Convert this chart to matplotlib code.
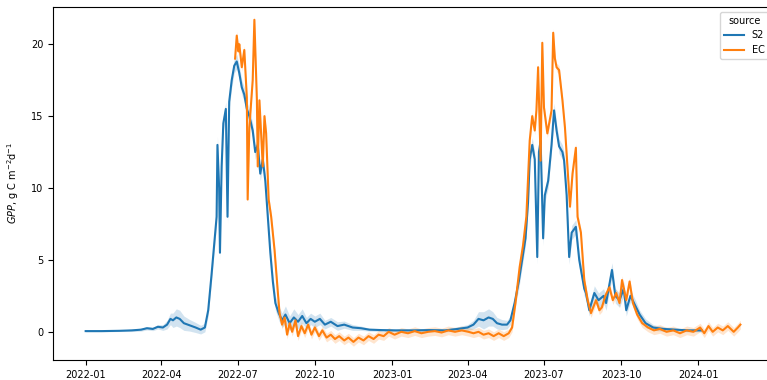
import numpy as np
import pandas as pd
import matplotlib
matplotlib.use("Agg")
from matplotlib import pyplot as plt
import matplotlib.dates as mdates

plt.rcParams["font.size"] = 7

#  ---------------------------------------  data  ---------------------------------------  #

s2_dates = ["2022-01-01", "2022-01-20", "2022-02-10", "2022-02-25", "2022-03-08", "2022-03-15",
            "2022-03-22", "2022-03-28", "2022-04-03", "2022-04-08", "2022-04-12", "2022-04-15",
            "2022-04-19", "2022-04-23", "2022-04-28", "2022-05-05", "2022-05-12", "2022-05-18",
            "2022-05-23", "2022-05-27", "2022-05-31", "2022-06-03", "2022-06-06", "2022-06-07",
            "2022-06-09", "2022-06-10", "2022-06-12", "2022-06-14", "2022-06-17", "2022-06-19",
            "2022-06-21", "2022-06-24", "2022-06-27", "2022-06-30", "2022-07-03", "2022-07-06",
            "2022-07-09", "2022-07-12", "2022-07-15", "2022-07-19", "2022-07-22", "2022-07-25",
            "2022-07-28", "2022-07-31", "2022-08-03", "2022-08-06", "2022-08-09", "2022-08-12",
            "2022-08-15", "2022-08-19", "2022-08-23", "2022-08-27", "2022-09-01", "2022-09-06",
            "2022-09-11", "2022-09-16", "2022-09-21", "2022-09-26", "2022-10-01", "2022-10-07",
            "2022-10-13", "2022-10-20", "2022-10-28", "2022-11-05", "2022-11-15", "2022-11-25",
            "2022-12-05", "2022-12-20", "2023-01-05", "2023-01-25", "2023-02-15", "2023-03-05",
            "2023-03-20", "2023-04-01", "2023-04-08", "2023-04-14", "2023-04-20", "2023-04-26",
            "2023-05-01", "2023-05-06", "2023-05-12", "2023-05-18", "2023-05-22", "2023-05-27",
            "2023-06-01", "2023-06-05", "2023-06-09", "2023-06-12", "2023-06-14", "2023-06-17",
            "2023-06-20", "2023-06-23", "2023-06-25", "2023-06-27", "2023-06-30", "2023-07-02",
            "2023-07-06", "2023-07-10", "2023-07-13", "2023-07-16", "2023-07-19", "2023-07-23",
            "2023-07-25", "2023-07-28", "2023-07-31", "2023-08-03", "2023-08-08", "2023-08-12",
            "2023-08-18", "2023-08-20", "2023-08-24", "2023-08-30", "2023-09-04", "2023-09-10",
            "2023-09-13", "2023-09-20", "2023-09-24", "2023-09-29", "2023-10-04", "2023-10-07",
            "2023-10-12", "2023-10-18", "2023-10-23", "2023-10-30", "2023-11-08", "2023-11-20",
            "2023-12-05", "2023-12-20", "2024-01-05"]
s2_gpp = [0.05, 0.05, 0.07, 0.1, 0.15, 0.25,
          0.2, 0.35, 0.3, 0.5, 0.9, 0.8,
          1.0, 0.9, 0.6, 0.45, 0.3, 0.15,
          0.3, 1.5, 4.0, 6.0, 8.0, 13.0,
          10.0, 5.5, 11.5, 14.5, 15.5, 8.0,
          16.0, 17.5, 18.5, 18.8, 18.0, 17.0,
          16.5, 15.5, 15.0, 14.0, 12.5, 13.0,
          11.0, 12.0, 10.5, 8.0, 5.5, 3.5,
          2.0, 1.3, 0.8, 1.2, 0.6, 1.0,
          0.7, 1.1, 0.6, 0.9, 0.7, 0.9,
          0.5, 0.7, 0.4, 0.5, 0.3, 0.25,
          0.15, 0.12, 0.1, 0.1, 0.12, 0.1,
          0.2, 0.3, 0.5, 0.9, 0.8, 1.0,
          0.9, 0.6, 0.5, 0.5, 0.8, 2.0,
          3.5, 5.0, 6.5, 9.0, 12.0, 13.0,
          12.0, 5.2, 12.5, 13.3, 6.5, 9.5,
          10.5, 13.0, 15.4, 14.0, 12.9, 12.5,
          11.9, 9.5, 5.2, 6.9, 7.3, 5.0,
          3.0, 2.7, 1.5, 2.7, 2.2, 2.5,
          2.0, 4.3, 2.5, 2.2, 3.0, 1.5,
          2.5, 1.8, 1.2, 0.6, 0.3, 0.2,
          0.15, 0.1, 0.1]
s2_ci = [0.05, 0.05, 0.05, 0.08, 0.1, 0.12,
         0.12, 0.15, 0.2, 0.3, 0.4, 0.5,
         0.6, 0.6, 0.5, 0.4, 0.35, 0.3,
         0.3, 0.4, 0.5, 0.5, 0.5, 0.6,
         0.6, 0.5, 0.5, 0.5, 0.5, 0.5,
         0.5, 0.5, 0.5, 0.5, 0.5, 0.5,
         0.5, 0.5, 0.5, 0.5, 0.5, 0.5,
         0.5, 0.5, 0.5, 0.5, 0.5, 0.5,
         0.5, 0.5, 0.5, 0.6, 0.5, 0.6,
         0.5, 0.5, 0.4, 0.4, 0.4, 0.4,
         0.3, 0.3, 0.3, 0.25, 0.2, 0.15,
         0.1, 0.1, 0.1, 0.1, 0.1, 0.1,
         0.15, 0.2, 0.3, 0.5, 0.6, 0.6,
         0.5, 0.4, 0.35, 0.3, 0.3, 0.4,
         0.5, 0.5, 0.5, 0.5, 0.5, 0.5,
         0.5, 0.5, 0.5, 0.5, 0.5, 0.5,
         0.5, 0.5, 0.5, 0.5, 0.5, 0.5,
         0.5, 0.5, 0.5, 0.5, 0.5, 0.5,
         0.5, 0.5, 0.4, 0.5, 0.5, 0.5,
         0.5, 0.5, 0.5, 0.5, 0.5, 0.4,
         0.4, 0.4, 0.3, 0.3, 0.2, 0.15,
         0.1, 0.1, 0.1]

ec_dates = ["2022-06-28", "2022-06-30", "2022-07-02", "2022-07-03", "2022-07-06", "2022-07-09",
            "2022-07-12", "2022-07-13", "2022-07-15", "2022-07-19", "2022-07-21", "2022-07-24",
            "2022-07-25", "2022-07-27", "2022-07-31", "2022-08-02", "2022-08-04", "2022-08-07",
            "2022-08-10", "2022-08-14", "2022-08-18", "2022-08-20", "2022-08-23", "2022-08-26",
            "2022-08-29", "2022-09-01", "2022-09-04", "2022-09-08", "2022-09-11", "2022-09-15",
            "2022-09-19", "2022-09-23", "2022-09-27", "2022-10-01", "2022-10-06", "2022-10-10",
            "2022-10-15", "2022-10-20", "2022-10-25", "2022-10-30", "2022-11-05", "2022-11-10",
            "2022-11-16", "2022-11-22", "2022-11-28", "2022-12-04", "2022-12-10", "2022-12-16",
            "2022-12-22", "2022-12-28", "2023-01-04", "2023-01-12", "2023-01-20", "2023-01-28",
            "2023-02-05", "2023-02-13", "2023-02-21", "2023-03-01", "2023-03-09", "2023-03-17",
            "2023-03-25", "2023-04-02", "2023-04-08", "2023-04-14", "2023-04-20", "2023-04-26",
            "2023-05-02", "2023-05-08", "2023-05-14", "2023-05-20", "2023-05-24", "2023-05-28",
            "2023-06-02", "2023-06-06", "2023-06-10", "2023-06-14", "2023-06-17", "2023-06-20",
            "2023-06-22", "2023-06-24", "2023-06-27", "2023-06-29", "2023-07-01", "2023-07-05",
            "2023-07-10", "2023-07-12", "2023-07-14", "2023-07-16", "2023-07-19", "2023-07-23",
            "2023-07-26", "2023-07-29", "2023-08-01", "2023-08-04", "2023-08-08", "2023-08-10",
            "2023-08-14", "2023-08-18", "2023-08-22", "2023-08-26", "2023-09-01", "2023-09-05",
            "2023-09-08", "2023-09-12", "2023-09-17", "2023-09-21", "2023-09-25", "2023-09-29",
            "2023-10-02", "2023-10-07", "2023-10-11", "2023-10-15", "2023-10-20", "2023-10-26",
            "2023-11-02", "2023-11-09", "2023-11-16", "2023-11-24", "2023-12-02", "2023-12-10",
            "2023-12-18", "2023-12-26", "2024-01-03", "2024-01-08", "2024-01-13", "2024-01-18",
            "2024-01-24", "2024-01-30", "2024-02-05", "2024-02-12", "2024-02-17", "2024-02-20"]
ec_gpp = [19.0, 20.6, 19.5, 20.0, 18.4, 19.6,
          16.3, 9.2, 14.2, 17.5, 21.7, 16.1,
          11.5, 16.1, 11.5, 15.0, 13.8, 9.2,
          8.0, 5.7, 2.7, 1.3, 0.5, 1.0,
          -0.2, 0.6, 0.0, 0.8, -0.3, 0.4,
          -0.1, 0.5, -0.2, 0.3, -0.3, 0.1,
          -0.4, -0.2, -0.5, -0.3, -0.6, -0.4,
          -0.7, -0.4, -0.6, -0.3, -0.5, -0.2,
          -0.3, 0.0, -0.2, 0.0, -0.1, 0.05,
          -0.1, 0.0, 0.05, -0.05, 0.1, 0.0,
          0.1, 0.0, -0.1, 0.0, -0.2, -0.1,
          -0.3, -0.1, -0.3, -0.1, 0.3, 2.0,
          4.5, 6.0, 8.0, 13.3, 15.0, 14.0,
          15.4, 18.4, 11.9, 20.1, 15.6, 13.8,
          15.4, 20.8, 19.0, 18.4, 18.2, 16.1,
          14.2, 11.5, 8.7, 11.0, 12.8, 8.0,
          6.9, 3.6, 2.2, 1.3, 2.2, 1.5,
          1.7, 2.5, 3.1, 2.2, 2.7, 2.0,
          3.6, 2.2, 3.5, 2.0, 1.2, 0.6,
          0.3, 0.1, 0.2, 0.0, 0.1, -0.1,
          0.1, 0.0, 0.3, -0.1, 0.4, 0.0,
          0.3, 0.1, 0.4, 0.0, 0.3, 0.5]
ec_ci = [0.3] * len(ec_gpp)

sources = ["S2", "EC"]
colors = ["#1f77b4", "#ff7f0e"]

#  ---------------------------------------  plot  ---------------------------------------  #

fig = plt.figure(figsize=(7.67, 3.80), dpi=100)
ax = fig.add_axes([0.069, 0.053, 0.939, 0.929])

series = [(s2_dates, s2_gpp, s2_ci), (ec_dates, ec_gpp, ec_ci)]
for (d, g, c), name, col in zip(series, sources, colors):
    d = pd.to_datetime(d)
    g = np.array(g)
    c = np.array(c)
    ax.fill_between(d, g - c, g + c, color=col, alpha=0.2, linewidth=0)
    ax.plot(d, g, color=col, lw=1.5, label=name)

ax.set_ylim(-1.95, 22.6)
ax.set_yticks([0, 5, 10, 15, 20])
ax.xaxis.set_major_locator(mdates.MonthLocator(bymonth=[1, 4, 7, 10]))
ax.xaxis.set_major_formatter(mdates.DateFormatter("%Y-%m"))
ax.tick_params(labelsize=7)

ax.set_ylabel(r"$GPP$, g C m$^{-2}$d$^{-1}$", fontsize=7)
ax.yaxis.set_label_coords(-0.045, 0.5)

ax.legend(title="source", loc="upper right", fontsize=7, title_fontsize=7)

fig.savefig("out.png", dpi=100)
